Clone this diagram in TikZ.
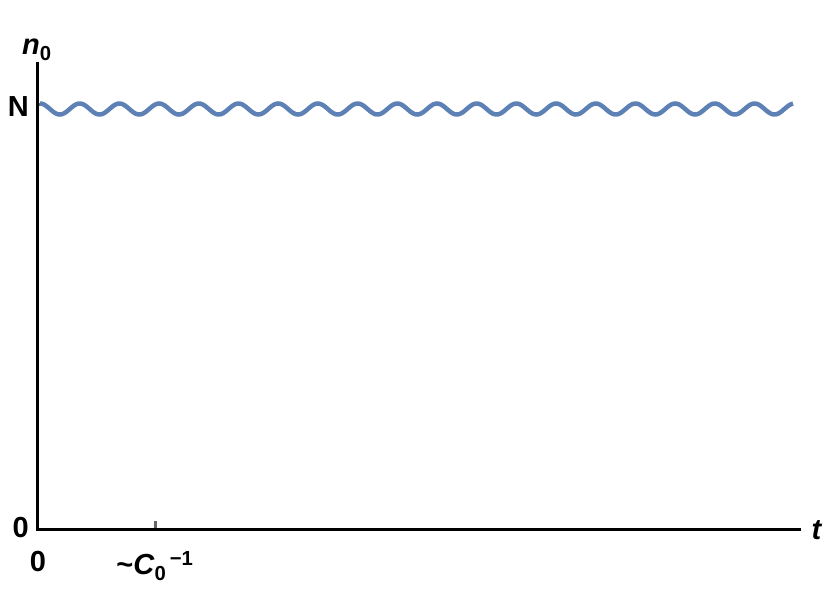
\documentclass[tikz,border=0pt]{standalone}
\usepackage{fontspec}
\setmainfont{Liberation Sans}
\begin{document}
\begin{tikzpicture}[x=1pt,y=-1pt,
  lab/.style={font=\fontsize{29}{32}\selectfont\bfseries, inner sep=0pt},
  axis/.style={line width=3pt, black},
  tick/.style={line width=3pt, gray!80!black}]
\useasboundingbox (0,0) rectangle (830,595);
\draw[tick] (37,104) -- (46,104);
\draw[tick] (155,529) -- (155,521);
\draw[tick] (37,529) -- (46,529);
\draw[axis] (37,62) -- (37,531);
\draw[axis] (36,529) -- (801,529);
\draw[line width=4.5pt, color={rgb,255:red,94;green,129;blue,181}, domain=0:753, samples=500, smooth, variable=\x]
  plot ({\x+40}, {109 - 5.5*cos(9.068*\x)});
\node[lab] (n0) at (37,50) {\textit{n}\textsubscript{0}};
\node[lab, anchor=east] (N) at (29,107) {N};
\node[lab, anchor=east] (z) at (29,528) {0};
\node[lab] (zx) at (38,562) {0};
\node[lab] (c) at (155,566) {\textasciitilde\textit{C}\textsubscript{0}\textsuperscript{\,\textminus1}};
\node[lab] (t) at (817,530) {\textit{t}};
\end{tikzpicture}
\end{document}
